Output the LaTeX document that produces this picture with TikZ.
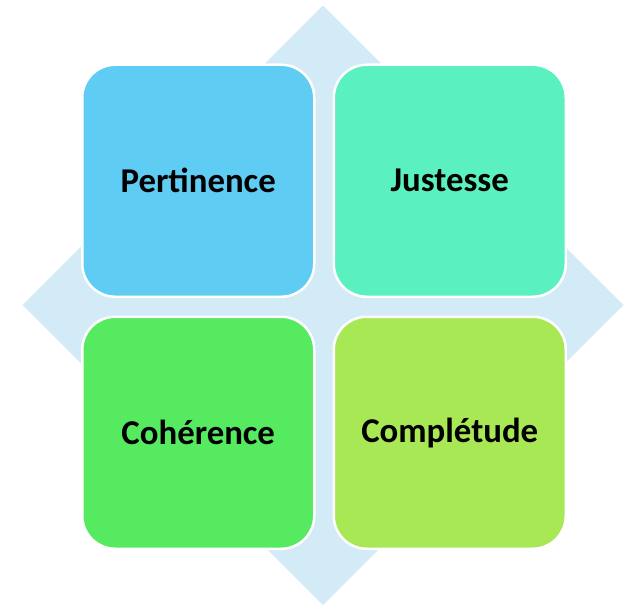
\documentclass[tikz,border=0pt]{standalone}
\usepackage{fontspec}
\setmainfont{Carlito}
\definecolor{diam}{HTML}{D3EAF7}
\definecolor{cTL}{HTML}{5FCDF3}
\definecolor{cTR}{HTML}{5BF0C0}
\definecolor{cBL}{HTML}{55EA60}
\definecolor{cBR}{HTML}{A8E855}
\begin{document}
\begin{tikzpicture}[x=1pt,y=-1pt,
  quad/.style={draw=white, line width=2.5pt, rounded corners=33pt, minimum width=232pt, minimum height=232pt, inner sep=0pt, anchor=north west, font=\fontsize{34.8}{38}\selectfont\bfseries, text=black}]
\useasboundingbox (0,0) rectangle (628,604);
\fill[diam] (323,5.5) -- (623.5,305) -- (323,605) -- (22.5,305) -- cycle;
\node[quad, fill=cTL] (tl) at (81,63.5) {Pertinence};
\node[quad, fill=cTR] (tr) at (332.5,63.5) {Justesse};
\node[quad, fill=cBL] (bl) at (81,315.5) {Cohérence};
\node[quad, fill=cBR] (br) at (332.5,315.5) {Complétude};
\end{tikzpicture}
\end{document}
